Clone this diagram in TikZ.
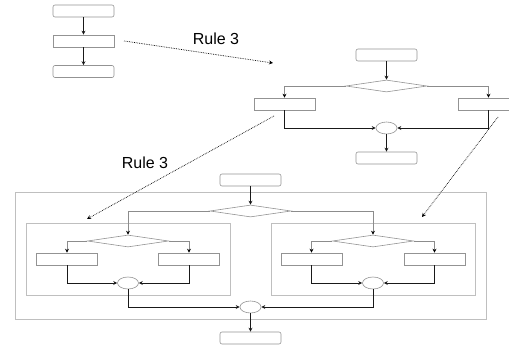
\documentclass[tikz,border=0pt]{standalone}
\usepackage{fontspec}
\setmainfont{Liberation Sans}
\usetikzlibrary{shapes.geometric,arrows.meta}
\tikzset{
  terminal/.style={draw=gray!85, rounded corners=2pt, minimum width=61pt, minimum height=12pt, inner sep=0pt, line width=0.6pt},
  process/.style={draw=gray!85, minimum width=61pt, minimum height=12pt, inner sep=0pt, line width=0.6pt},
  decision/.style={draw=gray!85, diamond, minimum width=81pt, minimum height=12pt, inner sep=0pt, line width=0.6pt},
  merge/.style={draw=gray!85, ellipse, minimum width=21pt, minimum height=12pt, inner sep=0pt, line width=0.6pt},
  flow/.style={->, black!90, line width=0.7pt},
  branch/.style={-{Stealth[length=4pt,width=4pt,color=black]}, gray!90, line width=0.6pt},
  rule/.style={->, densely dotted, black, line width=0.7pt},
  group/.style={draw=gray!50, line width=0.5pt}
}
\newcommand{\ifBlock}[4]{%
  \node[decision] (#1Dec) at (#2, #3) {};
  \node[process] (#1Left) at (#2-#4, #3+18) {};
  \node[process] (#1Right) at (#2+#4, #3+18) {};
  \node[merge] (#1Join) at (#2, #3+42) {};
  \draw[branch] (#1Dec.west) -| (#1Left.north);
  \draw[branch] (#1Dec.east) -| (#1Right.north);
  \draw[flow] (#1Left.south) |- (#1Join.west);
  \draw[flow] (#1Right.south) |- (#1Join.east);
}
\begin{document}
\begin{tikzpicture}[x=1pt, y=-1pt, >={Stealth[length=4pt,width=4pt]}]
  \useasboundingbox (0,0) rectangle (509,347);

  % sequence
  \node[terminal] (seqTop) at (83.5, 11) {};
  \node[process] (seqMid) at (83.5, 41) {};
  \node[terminal] (seqEnd) at (83.5, 71.5) {};
  \draw[flow] (seqTop) -- (seqMid);
  \draw[flow] (seqMid) -- (seqEnd);

  % first expansion
  \node[terminal] (oneTop) at (386.5, 55) {};
  \ifBlock{one}{386.5}{86}{102}
  \node[terminal] (oneEnd) at (386.5, 158) {};
  \draw[flow] (oneTop) -- (oneDec);
  \draw[flow] (oneJoin) -- (oneEnd);

  % second expansion
  \draw[group] (15, 192) rectangle (486, 319);
  \draw[group] (26, 223) rectangle (230, 295);
  \draw[group] (271, 223) rectangle (475, 295);
  \node[terminal] (twoTop) at (250.5, 180) {};
  \node[decision] (twoDec) at (250.5, 211) {};
  \ifBlock{inL}{128}{241}{61}
  \ifBlock{inR}{373}{241}{61.5}
  \node[merge] (twoJoin) at (250.5, 307) {};
  \node[terminal] (twoEnd) at (250.5, 338) {};
  \draw[flow] (twoTop) -- (twoDec);
  \draw[branch] (twoDec.west) -| (inLDec.north);
  \draw[branch] (twoDec.east) -| (inRDec.north);
  \draw[flow] (inLJoin.south) |- (twoJoin.west);
  \draw[flow] (inRJoin.south) |- (twoJoin.east);
  \draw[flow] (twoJoin) -- (twoEnd);

  % rule arrows
  \coordinate (ruleA) at (124, 41);
  \coordinate (ruleB) at (273, 63);
  \coordinate (ruleC) at (274, 116);
  \coordinate (ruleD) at (87, 219);
  \coordinate (ruleE) at (498, 117);
  \coordinate (ruleF) at (422, 217);
  \draw[rule] (ruleA) -- (ruleB);
  \draw[rule] (ruleC) -- (ruleD);
  \draw[rule] (ruleE) -- (ruleF);
  \node[font=\fontsize{16}{19}\selectfont] (ruleOne) at (216, 39) {Rule 3};
  \node[font=\fontsize{16}{19}\selectfont] (ruleTwo) at (145, 163) {Rule 3};
\end{tikzpicture}
\end{document}
